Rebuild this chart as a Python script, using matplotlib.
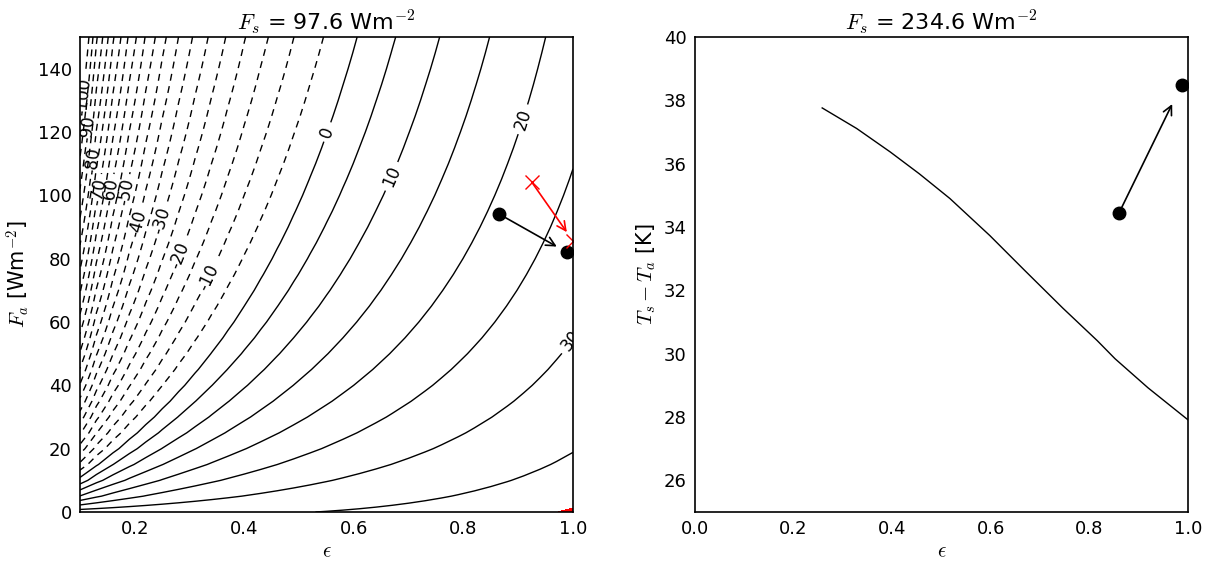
import numpy as np
import matplotlib
matplotlib.use("Agg")
import matplotlib.pyplot as plt

plt.rcParams['mathtext.fontset'] = 'cm'
plt.rcParams['font.size'] = 13
plt.rcParams['lines.dashed_pattern'] = [5, 4]

SIGMA = 5.67e-8

# left panel: two layer model, F_s fixed
Fs_left = 97.6
eps_grid = np.linspace(0.1, 1.0, 31)
Fa_grid = np.linspace(0, 150, 31)
label_levels = np.arange(-100, 40, 10)
other_levels = np.arange(-95, 40, 10)
red_level = 38.28

# points + arrows on left panel
eps_pts_left = [0.865, 0.989]
Fa_pts_left = [94.1, 82.0]
eps_x_left = [0.925, 1.0]
Fa_x_left = [104.1, 85.6]

# right panel: curve at F_s = 234.6
Fs_right = 234.6
eps_curve = [0.258, 0.328, 0.396, 0.455, 0.517, 0.598, 0.668, 0.746, 0.816, 0.852, 0.919, 1.0]
dT_curve = [37.76, 37.11, 36.37, 35.68, 34.90, 33.73, 32.64, 31.44, 30.41, 29.84, 28.92, 27.91]
eps_pts_right = [0.860, 0.987]
dT_pts_right = [34.44, 38.49]

# heights (F_a) where each contour label sits
label_heights = [131, 121, 111, 101, 101, 101, 91, 92, 81, 74, 120, 106, 124, 54]


def ts_minus_ta(eps, Fa, Fs):
    S = (2 * Fs + Fa) / (2 - eps)
    A = (Fa + eps * Fs) / (eps * (2 - eps))
    return (S / SIGMA) ** 0.25 - (A / SIGMA) ** 0.25


def arrow(ax, x0, y0, x1, y1, color, frac=0.85):
    tip = (x0 + frac * (x1 - x0), y0 + frac * (y1 - y0))
    ax.annotate('', xy=tip, xytext=(x0, y0),
                arrowprops=dict(arrowstyle='->', color=color, lw=1.2,
                                shrinkA=0, shrinkB=0, mutation_scale=16))


fig = plt.figure(figsize=(12.11, 5.65), dpi=100)
W, H = 1211, 565
ax1 = fig.add_axes([80 / W, 1 - 512 / H, 493 / W, 475 / H])
ax2 = fig.add_axes([695 / W, 1 - 512 / H, 493 / W, 475 / H])

E, F = np.meshgrid(eps_grid, Fa_grid)
D = ts_minus_ta(E, F, Fs_left)

ax1.contour(E, F, D, levels=other_levels, colors='k', linewidths=1.0)
cs = ax1.contour(E, F, D, levels=label_levels, colors='k', linewidths=1.0)

# put each label on its own line at the chosen height
fine = np.linspace(0.1, 1.0, 2000)
spots = []
for lev, h in zip(label_levels, label_heights):
    vals = ts_minus_ta(fine, h, Fs_left)
    spots.append((np.interp(lev, vals, fine), h))
ax1.clabel(cs, fmt='%d', inline=True, fontsize=12, manual=spots)
ax1.contourf(E, F, D, levels=[red_level, 100], colors='red')

ax1.plot(eps_pts_left, Fa_pts_left, 'ko', ms=9)
ax1.plot(eps_x_left, Fa_x_left, 'rx', ms=10, mew=1.0)
arrow(ax1, eps_pts_left[0], Fa_pts_left[0], eps_pts_left[1], Fa_pts_left[1], 'k')
arrow(ax1, eps_x_left[0], Fa_x_left[0], eps_x_left[1], Fa_x_left[1], 'r')

ax1.set_xlim(0.1, 1.0)
ax1.set_ylim(0, 150)
ax1.set_xticks([0.2, 0.4, 0.6, 0.8, 1.0])
ax1.set_yticks(np.arange(0, 141, 20))
ax1.set_xlabel(r'$\epsilon$', labelpad=2, fontsize=15)
ax1.set_ylabel(r'$F_a$ [Wm$^{-2}$]', fontsize=15)
ax1.set_title(r'$F_s$ = %.1f Wm$^{-2}$' % Fs_left, fontsize=16, pad=5)

ax2.plot(eps_curve, dT_curve, 'k-', lw=1.0)
ax2.plot(eps_pts_right, dT_pts_right, 'ko', ms=9)
arrow(ax2, eps_pts_right[0], dT_pts_right[0], eps_pts_right[1], dT_pts_right[1], 'k')
ax2.set_xlim(0, 1.0)
ax2.set_ylim(25, 40)
ax2.set_xticks(np.arange(0, 1.01, 0.2))
ax2.set_yticks(np.arange(26, 41, 2))
ax2.set_xlabel(r'$\epsilon$', labelpad=2, fontsize=15)
ax2.set_ylabel(r'$T_s - T_a$ [K]', fontsize=15)
ax2.set_title(r'$F_s$ = %.1f Wm$^{-2}$' % Fs_right, fontsize=16, pad=5)

for ax in (ax1, ax2):
    ax.tick_params(length=0, pad=6)
    for sp in ax.spines.values():
        sp.set_linewidth(1.2)

fig.savefig('out.png', dpi=100)
